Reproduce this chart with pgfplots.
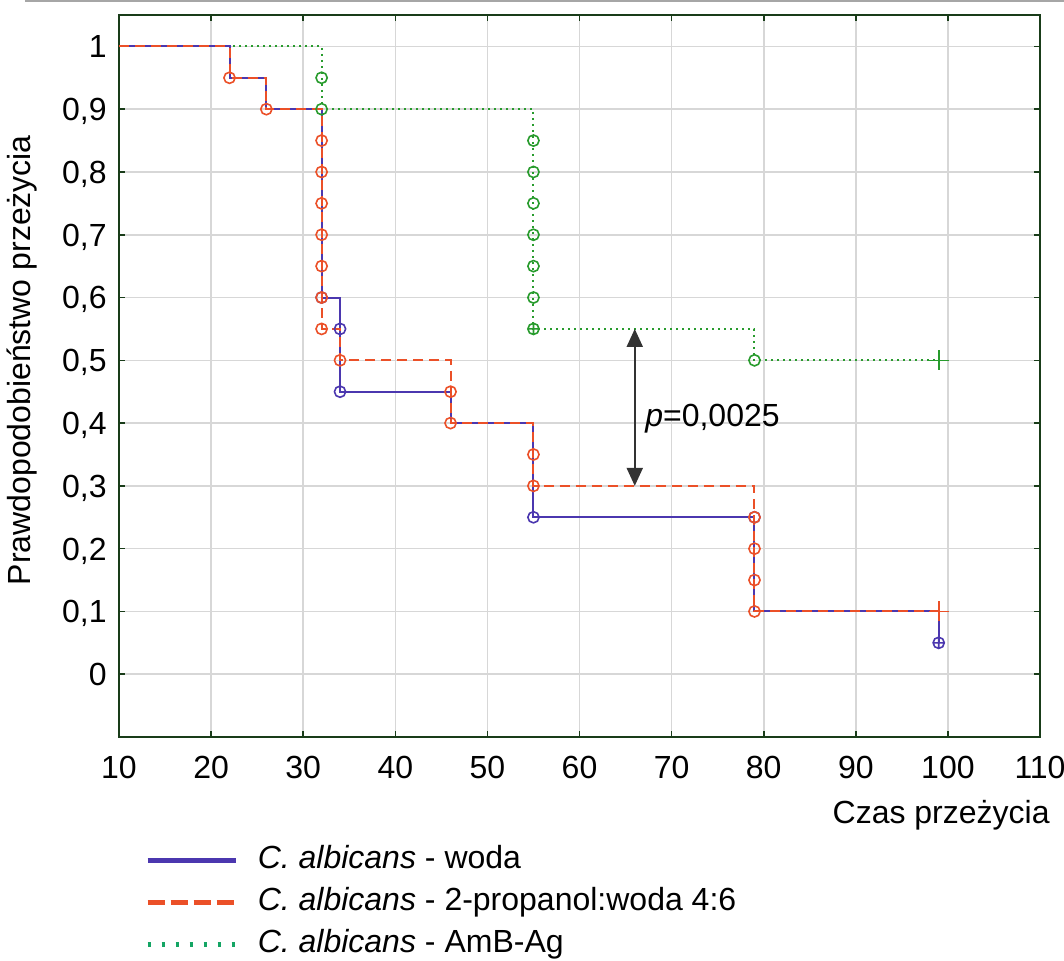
\documentclass[border=0pt]{standalone}
\usepackage{fontspec}
\setmainfont{Liberation Sans}
\usepackage{pgfplots}
\pgfplotsset{compat=1.18}
\usetikzlibrary{arrows.meta}
\definecolor{cblue}{RGB}{75,55,175}
\definecolor{cred}{RGB}{235,80,40}
\definecolor{cgreen}{RGB}{40,155,45}
\definecolor{cgreenleg}{RGB}{20,165,100}
\definecolor{framec}{RGB}{25,60,25}
\definecolor{gridc}{RGB}{215,215,215}
\begin{document}
\begin{tikzpicture}
\useasboundingbox (-59.5pt,-111.5pt) rectangle (472.5pt,368.5pt);
\draw[gray!70, line width=1pt] (-47pt,368pt) -- (472.5pt,368pt);
\begin{axis}[
  scale only axis, width=460.5pt, height=361pt,
  xmin=10, xmax=110, ymin=-0.1, ymax=1.05,
  xtick={10,20,30,40,50,60,70,80,90,100,110},
  ytick={0,0.1,0.2,0.3,0.4,0.5,0.6,0.7,0.8,0.9,1},
  grid=major, major grid style={gridc, line width=0.8pt},
  axis line style={framec, line width=1pt},
  tick style={framec, line width=0.8pt}, tick align=inside, major tick length=3pt,
  tick label style={font=\fontsize{16}{19}\selectfont, /pgf/number format/assume math mode=true},
  yticklabel style={/pgf/number format/.cd, fixed, precision=1, use comma, /tikz/.cd, anchor=base east, inner sep=0pt, xshift=-6pt, yshift=-5.7pt},
  xticklabel style={anchor=base, inner sep=0pt, yshift=-20.75pt},
  every axis y label/.style={at={([xshift=-48.5pt]axis description cs:0,0.522)}, rotate=90, anchor=center, font=\fontsize{16}{19}\selectfont},
  every axis x label/.style={at={([xshift=5pt,yshift=-43pt]axis description cs:1,0)}, anchor=base east, inner sep=0pt, font=\fontsize{16}{19}\selectfont},
  ylabel={Prawdopodobieństwo przeżycia},
  xlabel={Czas przeżycia},
  legend style={at={(axis description cs:0,0)}, anchor=north west, xshift=13pt, yshift=-53.5pt, draw=none, fill=none, inner sep=0pt, font=\fontsize{16}{19}\selectfont, row sep=5pt, nodes={inner sep=0pt, text height=12pt, text depth=4pt}, /tikz/every odd column/.append style={column sep=10pt}},
  legend cell align=left,
  legend image code/.code={\draw[#1] (0pt,0pt) -- (44pt,0pt);},
]
\addlegendimage{cblue, line width=2.2pt}
\addlegendentry{\textit{C. albicans} - woda}
\addlegendimage{cred, line width=2.2pt, dash pattern=on 8.5pt off 3pt}
\addlegendentry{\textit{C. albicans} - 2-propanol:woda 4:6}
\addlegendimage{cgreenleg, line width=2.2pt, dash pattern=on 1.5pt off 5.5pt}
\addlegendentry{\textit{C. albicans} - AmB-Ag}

% green (AmB-Ag)
\addplot[forget plot, cgreen, line width=1pt, dash pattern=on 1pt off 2pt] coordinates {
(10,1) (32,1) (32,0.9) (55,0.9) (55,0.55) (79,0.55) (79,0.5) (99,0.5)};
\addplot[forget plot, only marks, cgreen, mark=o, mark size=2.8pt, mark options={solid, line width=0.8pt}] coordinates {
(32,0.95) (32,0.9) (55,0.85) (55,0.8) (55,0.75) (55,0.7) (55,0.65) (55,0.6) (79,0.5)};
\addplot[forget plot, only marks, cgreen, mark=oplus, mark size=2.8pt, mark options={solid, line width=0.8pt}] coordinates {(55,0.55)};
\addplot[forget plot, only marks, cgreen, mark=+, mark size=5pt, mark options={solid, line width=0.8pt}] coordinates {(99,0.5)};

% blue (woda)
\addplot[forget plot, cblue, line width=1pt] coordinates {
(10,1) (22,1) (22,0.95) (26,0.95) (26,0.9) (32,0.9) (32,0.6) (34,0.6) (34,0.45) (46,0.45) (46,0.4) (55,0.4) (55,0.25) (79,0.25) (79,0.1) (99,0.1) (99,0.05)};
\addplot[forget plot, only marks, cblue, mark=o, mark size=2.8pt, mark options={solid, line width=0.8pt}] coordinates {
(32,0.6) (34,0.55) (34,0.45) (55,0.25) (79,0.25)};
\addplot[forget plot, only marks, cblue, mark=oplus, mark size=2.8pt, mark options={solid, line width=0.8pt}] coordinates {(99,0.05)};

% red (2-propanol:woda)
\addplot[forget plot, cred, line width=1pt, dash pattern=on 5pt off 3pt] coordinates {
(10,1) (22,1) (22,0.95) (26,0.95) (26,0.9) (32,0.9) (32,0.55) (34,0.55) (34,0.5) (46,0.5) (46,0.4) (55,0.4) (55,0.3) (79,0.3) (79,0.1) (99,0.1)};
\addplot[forget plot, only marks, cred, mark=o, mark size=2.8pt, mark options={solid, line width=0.8pt}] coordinates {
(22,0.95) (26,0.9) (32,0.85) (32,0.8) (32,0.75) (32,0.7) (32,0.65) (32,0.6) (32,0.55) (34,0.5) (46,0.45) (46,0.4) (55,0.35) (55,0.3) (79,0.25) (79,0.2) (79,0.15) (79,0.1)};
\addplot[forget plot, only marks, cred, mark=+, mark size=5pt, mark options={solid, line width=0.8pt}] coordinates {(99,0.1)};

\draw[black!80, line width=1pt, {Triangle[width=8pt,length=9pt]}-{Triangle[width=8pt,length=9pt]}] (axis cs:66,0.55) -- (axis cs:66,0.3);
\node[anchor=base west, inner sep=0pt, font=\fontsize{16}{19}\selectfont] at (axis cs:67.1,0.395) {\textit{p}=0,0025};
\end{axis}
\end{tikzpicture}
\end{document}
